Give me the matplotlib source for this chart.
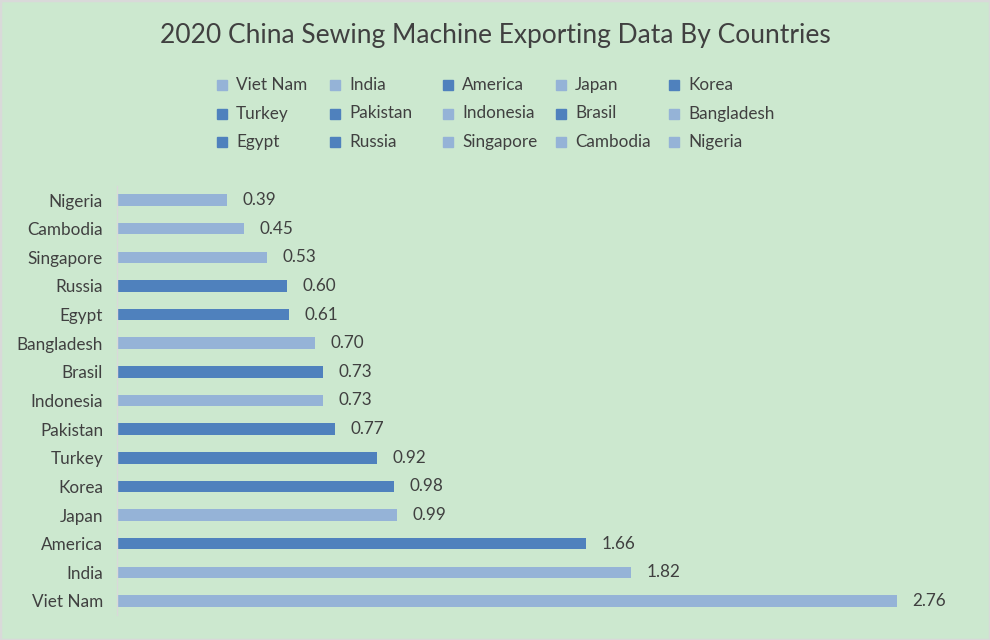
import matplotlib.pyplot as plt
from matplotlib.patches import Rectangle

plt.rcParams['font.family'] = ['Lato', 'DejaVu Sans']

# Data (bottom to top as drawn)
countries = ['Viet Nam', 'India', 'America', 'Japan', 'Korea',
             'Turkey', 'Pakistan', 'Indonesia', 'Brasil', 'Bangladesh',
             'Egypt', 'Russia', 'Singapore', 'Cambodia', 'Nigeria']
values = [2.76, 1.82, 1.66, 0.99, 0.98,
          0.92, 0.77, 0.73, 0.73, 0.70,
          0.61, 0.60, 0.53, 0.45, 0.39]
dark_group = ['America', 'Korea', 'Turkey', 'Pakistan', 'Brasil', 'Egypt', 'Russia']

DARK = '#4F81BD'
LIGHT = '#95B3D7'
BG = '#CCE8CF'
TXT = '#404040'
W, H = 990, 640

colors = [DARK if c in dark_group else LIGHT for c in countries]

fig = plt.figure(figsize=(9.9, 6.4), dpi=100, facecolor=BG)
ax = fig.add_axes([117 / W, 1 - 615.3 / H, 848 / W, 429.6 / H])
ax.set_facecolor(BG)

pos = range(len(countries))
ax.barh(pos, values, height=0.4, color=colors)

for p, v in zip(pos, values):
    ax.text(v + 0.055, p, f'{v:.2f}', va='center', ha='left', fontsize=12.3, color=TXT)

ax.set_xlim(0, 3.0)
ax.set_ylim(-0.5, len(countries) - 0.5)
ax.set_yticks(list(pos))
ax.set_yticklabels(countries, fontsize=12.3, color=TXT)
ax.tick_params(axis='y', length=0, pad=10)
ax.set_xticks([])
for s in ['top', 'right', 'bottom']:
    ax.spines[s].set_visible(False)
ax.spines['left'].set_color('#D9D9D9')
ax.spines['left'].set_linewidth(1)

fig.text(0.5, 1 - 36 / H, '2020 China Sewing Machine Exporting Data By Countries',
         ha='center', va='center', fontsize=19, color=TXT)

# legend: 5 equal columns, filled row by row
for k, (name, col) in enumerate(zip(countries, colors)):
    r, c = divmod(k, 5)
    x = 217 + c * 113
    y = 85 + r * 28.5
    fig.add_artist(Rectangle((x / W, 1 - (y + 5) / H), 10 / W, 10 / H,
                             transform=fig.transFigure, color=col))
    fig.text((x + 19) / W, 1 - y / H, name, ha='left', va='center',
             fontsize=12.3, color=TXT)

fig.add_artist(Rectangle((0, 0), 1, 1, transform=fig.transFigure, fill=False,
                         edgecolor='#D9D9D9', linewidth=2.5))

fig.savefig('out.png', dpi=100, facecolor=BG)
